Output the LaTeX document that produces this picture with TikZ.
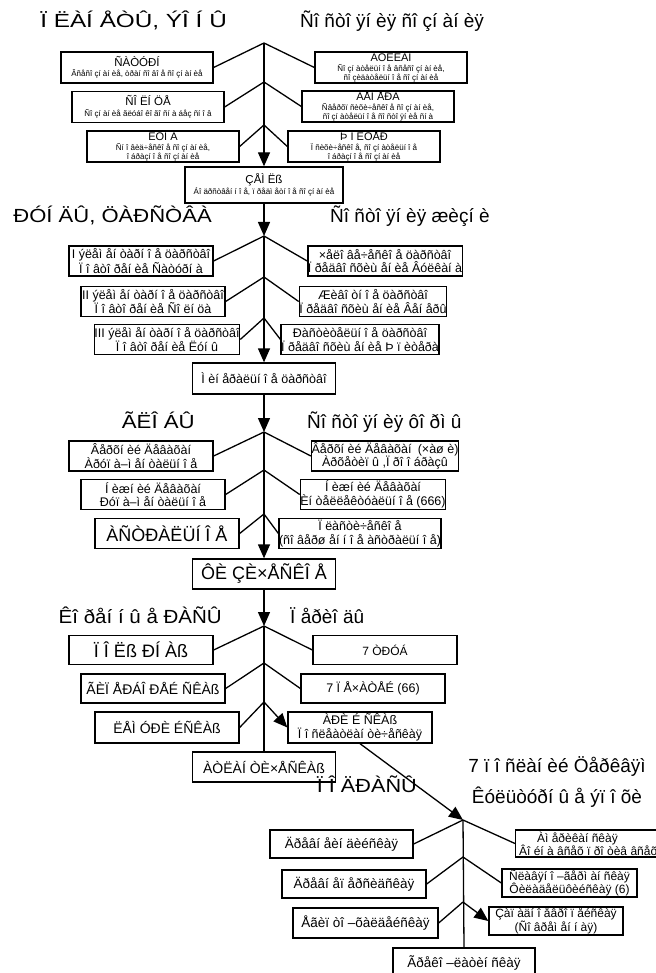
\documentclass[tikz,border=0pt]{standalone}
\usepackage{fontspec}
\setmainfont{Liberation Sans}
\usetikzlibrary{arrows.meta}
\newcommand{\sz}[2]{\fontsize{#1}{#2}\selectfont}

\begin{document}
\begin{tikzpicture}[x=1pt,y=-1pt,
    box/.style={draw,line width=1.3pt,inner sep=0pt,align=center,
        minimum width=144pt,minimum height=30pt,font=\sz{12.5}{13.5}},
    planet/.style={box,minimum width=152pt,minimum height=31pt,font=\sz{8}{9.5}},
    head/.style={inner sep=0pt,font=\sz{19}{22}},
    link/.style={line width=1.3pt},
    tip/.style={link,-{Triangle[length=14pt,width=12pt]}}]
\useasboundingbox (0,0) rectangle (655,973);

% headers
\node[head,anchor=base east] (hplan) at (227,28) {\scalebox{1.28}[1]{Ï ËÀÍ ÅÒÛ, ÝÎ Í Û}};
\node[head,anchor=base west] (hcons) at (300,28) {Ñî ñòî ÿí èÿ ñî çí àí èÿ};
\node[head,anchor=base east] (hrund) at (212,223) {\scalebox{1.16}[1]{ÐÓÍ ÄÛ, ÖÀÐÑÒÂÀ}};
\node[head,anchor=base west] (hlife) at (330,223) {Ñî ñòî ÿí èÿ æèçí è};
\node[head,anchor=base east] (hglob) at (195,428) {\scalebox{1.17}[1]{ÃËÎ ÁÛ}};
\node[head,anchor=base west] (hform) at (307,428) {Ñî ñòî ÿí èÿ ôî ðì û};
\node[head,anchor=base east] (hrace) at (222,623) {\scalebox{1.08}[1]{Êî ðåí í û å ÐÀÑÛ}};
\node[head,anchor=base west] (hperi) at (290,623) {Ï åðèî äû};
\node[head,anchor=base east] (hsubr) at (417,792) {\scalebox{1.14}[1]{Ï Î ÄÐÀÑÛ}};
\node[head,anchor=base] (hcult) at (557,772) {7 ï î ñëàí èé Öåðêâÿì};
\node[head,anchor=base] (hepoch) at (557,803) {Êóëüòóðí û å ýï î õè};

% planets
\node[planet] (saturn) at (137,67.5) {{\sz{11.5}{10}ÑÀÒÓÐÍ}\\[1pt]Âñåñî çí àí èå, òðàí ñî âî å ñî çí àí èå};
\node[planet] (sun) at (148,107) {{\sz{11.5}{10}ÑÎ ËÍ ÖÅ}\\[1pt]Ñî çí àí èå ãëóáî êî ãî ñí à áåç ñí î â};
\node[planet] (moon) at (163,146.5) {{\sz{11}{10}ËÓÍ À}\\Ñí î âèä÷åñêî å ñî çí àí èå,\\î áðàçí î å ñî çí àí èå};
\node[planet] (vulcan) at (391,67.5) {{\sz{11}{10}ÂÓËÊÀÍ}\\Ñî çí àòåëüí î å âñåñî çí àí èå,\\ñî çèäàòåëüí î å ñî çí àí èå};
\node[planet] (venus) at (378,106.5) {{\sz{11}{10}ÂÅÍ ÅÐÀ}\\Ñâåðõï ñèõè÷åñêî å ñî çí àí èå,\\ñî çí àòåëüí î å ñî ñòî ÿí èå ñí à};
\node[planet] (jupiter) at (364,146.5) {{\sz{11}{10}Þ Ï ÈÒÅÐ}\\Ï ñèõè÷åñêî å, ñî çí àòåëüí î å\\î áðàçí î å ñî çí àí èå};
\node[planet,minimum width=158pt,minimum height=36pt] (earth) at (264,185) {{\sz{11.5}{10}ÇÅÌ Ëß}\\[2pt]Áî äðñòâåí í î å, ï ðåäì åòí î å ñî çí àí èå};

\coordinate (fa1) at (264,43);
\coordinate (fa2) at (264,82);
\coordinate (fa3) at (264,125);
\draw[link] (saturn.east) -- (fa1) -- (vulcan.west);
\draw[link] (sun.east) -- (fa2) -- (venus.west);
\draw[link] (moon.east) -- (fa3) -- (jupiter.west);
\draw[tip] (fa1) -- (earth.north);

% kingdoms
\node[box] (king1) at (141,261) {I ýëåì åí òàðí î å öàðñòâî\\Ï î âòî ðåí èå Ñàòóðí à};
\node[box] (king2) at (153,301.5) {II ýëåì åí òàðí î å öàðñòâî\\Ï î âòî ðåí èå Ñî ëí öà};
\node[box] (king3) at (167,339.5) {III ýëåì åí òàðí î å öàðñòâî\\Ï î âòî ðåí èå Ëóí û};
\node[box] (human) at (385,261) {×åëî âå÷åñêî å öàðñòâî\\Ï ðåäâî ñõèù åí èå Âóëêàí à};
\node[box] (animal) at (373,301.5) {Æèâî òí î å öàðñòâî\\Ï ðåäâî ñõèù åí èå Âåí åðû};
\node[box] (plant) at (360,339.5) {Ðàñòèòåëüí î å öàðñòâî\\Ï ðåäâî ñõèù åí èå Þ ï èòåðà};
\node[box,minimum width=143pt,minimum height=31pt] (mineral) at (264,378.5) {Ì èí åðàëüí î å öàðñòâî};

\coordinate (fb1) at (264,236);
\coordinate (fb2) at (264,277);
\coordinate (fb3) at (264,318);
\draw[tip] (earth.south) -- (fb1);
\draw[link] (king1.east) -- (fb1) -- (human.west);
\draw[link] (king2.east) -- (fb2) -- (animal.west);
\draw[link] (king3.east) -- (fb3) -- (plant.west);
\draw[tip] (fb1) -- (mineral.north);

% globes
\node[box] (updev) at (141,456) {Âåðõí èé Äåâàõàí\\Àðóï à–ì åí òàëüí î å};
\node[box] (lowdev) at (153,494.5) {Í èæí èé Äåâàõàí\\Ðóï à–ì åí òàëüí î å};
\node[box,font=\sz{18}{20}] (astral) at (167,533.5) {ÀÑÒÐÀËÜÍ Î Å};
\node[box] (archet) at (385,456) {Âåðõí èé Äåâàõàí\enspace(×àø è)\\Àðõåòèï û ,Ï ðî î áðàçû};
\node[box] (intel) at (373,494.5) {Í èæí èé Äåâàõàí\\Èí òåëëåêòóàëüí î å (666)};
\node[box] (plastic) at (360,533.5) {Ï ëàñòè÷åñêî å\\(ñî âåðø åí í î å àñòðàëüí î å)};
\node[box,minimum width=143pt,font=\sz{18}{20}] (physical) at (264,574) {ÔÈ ÇÈ×ÅÑÊÎ Å};

\coordinate (fc1) at (264,432);
\coordinate (fc2) at (264,470);
\coordinate (fc3) at (264,514);
\draw[tip] (mineral.south) -- (fc1);
\draw[link] (updev.east) -- (fc1) -- (archet.west);
\draw[link] (lowdev.east) -- (fc2) -- (intel.west);
\draw[link] (astral.east) -- (fc3) -- (plastic.west);
\draw[tip] (fc1) -- (physical.north);

% root races
\node[box,minimum height=29pt,font=\sz{18}{20}] (polar) at (141,650) {Ï Î Ëß ÐÍ Àß};
\node[box,minimum height=29pt,font=\sz{14}{16}] (hyper) at (153,688.5) {ÃÈÏ ÅÐÁÎ ÐÅÉ ÑÊÀß};
\node[box,minimum height=31pt,font=\sz{14}{16}] (lemur) at (167,727.5) {ËÅÌ ÓÐÈ ÉÑÊÀß};
\node[box,minimum height=29pt,font=\sz{12}{14}] (trumpets) at (385,650) {7 ÒÐÓÁ};
\node[box,minimum height=29pt,font=\sz{12.5}{14}] (seals) at (373,688.5) {7 Ï Å×ÀÒÅÉ (66)};
\node[box,minimum height=31pt] (aryan) at (360,727.5) {ÀÐÈ É ÑÊÀß\\Ï î ñëåàòëàí òè÷åñêàÿ};
\node[box,minimum width=143pt,font=\sz{14}{16}] (atlant) at (264,767) {ÀÒËÀÍ ÒÈ×ÅÑÊÀß};

\coordinate (fd1) at (264,626);
\coordinate (fd2) at (264,663);
\coordinate (fd3) at (264,702);
\draw[tip] (physical.south) -- (fd1);
\draw[link] (polar.east) -- (fd1) -- (trumpets.west);
\draw[link] (hyper.east) -- (fd2) -- (seals.west);
\draw[link] (lemur.east) -- (fd3);
\draw[tip] (fd3) -- (aryan.west);
\draw[link] (fd1) -- (atlant.north);

% subraces
\node[box,minimum width=143pt,minimum height=28pt,font=\sz{13.5}{15}] (india) at (341.5,844) {Äðåâí åèí äèéñêàÿ};
\node[box,minimum height=28pt,font=\sz{13.5}{15}] (persia) at (354,884) {Äðåâí åï åðñèäñêàÿ};
\node[box,minimum width=145pt,font=\sz{13.5}{15}] (egypt) at (365.5,923) {Åãèï òî –õàëäåéñêàÿ};
\node[box,minimum width=142pt,font=\sz{13.5}{15}] (greco) at (464,963) {Ãðåêî –ëàòèí ñêàÿ};
\node[box,anchor=west,align=left,inner xsep=2pt,minimum width=145pt,minimum height=27pt,font=\sz{12}{13}] (america) at (515,843.5) {\hspace*{18pt}Àì åðèêàí ñêàÿ\\Âî éí à âñåõ ï ðî òèâ âñåõ};
\node[box,minimum width=135pt,minimum height=28pt,font=\sz{12}{13}] (slavic) at (569.5,883) {Ñëàâÿí î –ãåðì àí ñêàÿ\\Ôèëàäåëüôèéñêàÿ (6)};
\node[box,minimum width=134pt,minimum height=28pt,font=\sz{12}{13}] (western) at (556,921) {Çàï àäí î åâðî ï åéñêàÿ\\(Ñî âðåì åí í àÿ)};

\coordinate (fe1) at (463,820);
\coordinate (fe2) at (463,857);
\coordinate (fe3) at (463,902);
\draw[tip] (aryan.south) -- (fe1);
\draw[link] (india.east) -- (fe1) -- (america.west);
\draw[link] (persia.east) -- (fe2) -- (slavic.west);
\draw[link] (egypt.east) -- (fe3);
\draw[tip] (fe3) -- (western.west);
\draw[link] (fe1) -- (greco.north);
\end{tikzpicture}
\end{document}
